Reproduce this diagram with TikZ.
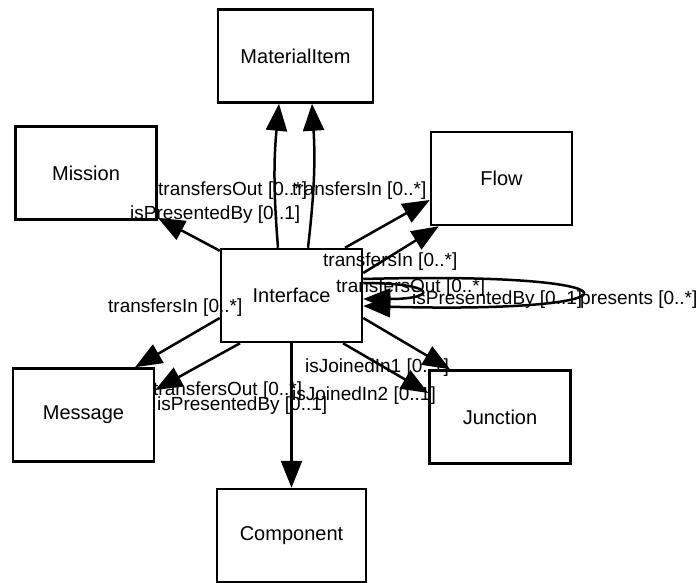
\documentclass[tikz,border=0pt]{standalone}
\usepackage{fontspec}
\setmainfont{Liberation Sans}
\usetikzlibrary{arrows.meta}

\begin{document}
\begin{tikzpicture}[x=1pt,y=-1pt,
    cls/.style={draw,line width=2.5pt,minimum width=141pt,minimum height=93pt,inner sep=0pt,font=\fontsize{20}{23}\selectfont},
    assoc/.style={line width=2.5pt,-{Triangle[length=27pt,width=21pt]}},
    role/.style={anchor=base west,inner sep=0pt,font=\fontsize{19}{22}\selectfont}]
        \useasboundingbox (0,0) rectangle (699,583);

        \node[cls,minimum width=155pt] (mat) at (295.5,56) {MaterialItem};
        \node[cls] (mission) at (86,173) {Mission};
        \node[cls] (flow) at (501.5,178.5) {Flow};
        \node[cls] (iface) at (291.5,295.5) {Interface};
        \node[cls] (message) at (83.5,415) {Message};
        \node[cls] (junction) at (500,417) {Junction};
        \node[cls,minimum width=149pt] (comp) at (291.5,535.5) {Component};

        \node[role] (matOut) at (158,196) {transfersOut [0..*]};
        \node[role] (matIn) at (292,196) {transfersIn [0..*]};
        \node[role] (missionPres) at (130,219) {isPresentedBy [0..1]};
        \node[role] (flowIn) at (323,266) {transfersIn [0..*]};
        \node[role] (flowOut) at (336,292) {transfersOut [0..*]};
        \node[role] (selfPres) at (412,304) {isPresentedBy [0..1]};
        \node[role] (selfPresents) at (580,304) {presents [0..*]};
        \node[role] (msgIn) at (108,312) {transfersIn [0..*]};
        \node[role] (joined1) at (305,372) {isJoinedIn1 [0..1]};
        \node[role] (msgOut) at (153,395) {transfersOut [0..*]};
        \node[role] (joined2) at (292,400) {isJoinedIn2 [0..1]};
        \node[role] (msgPres) at (157,410) {isPresentedBy [0..1]};

        \draw[assoc] ([yshift=-3pt]iface.north west)--([yshift=3pt]mission.south east);
        \draw[assoc] ([xshift=-13.5pt]iface.north) to[bend left=5] ([xshift=-16.5pt]mat.south);
        \draw[assoc] ([xshift=16.5pt]iface.north) to[bend right=5] ([xshift=16.5pt]mat.south);
        \draw[assoc] ([xshift=53.5pt]iface.north)--([yshift=-21.5pt]flow.west);
        \draw[assoc] ([yshift=22.5pt]iface.east)--([xshift=9pt]flow.south west);
        \draw[assoc] ([yshift=12.5pt]iface.east) .. controls +(75,0) and +(75,0) .. ([yshift=-3.5pt]iface.east);
        \draw[assoc] ([yshift=16.5pt]iface.east) .. controls +(290,-8) and +(290,8) .. ([yshift=-10.5pt]iface.east);
        \draw[assoc] ([yshift=-22.5pt]iface.west)--([xshift=51.5pt]message.north);
        \draw[assoc] ([xshift=-51.5pt]iface.south)--([yshift=25pt]message.east);
        \draw[assoc] ([yshift=-22.5pt]iface.east)--([xshift=-50pt]junction.north);
        \draw[assoc] ([xshift=51.5pt]iface.south)--([yshift=24pt]junction.west);
        \draw[assoc] (iface.south)--(comp.north);
    \end{tikzpicture}
\end{document}
